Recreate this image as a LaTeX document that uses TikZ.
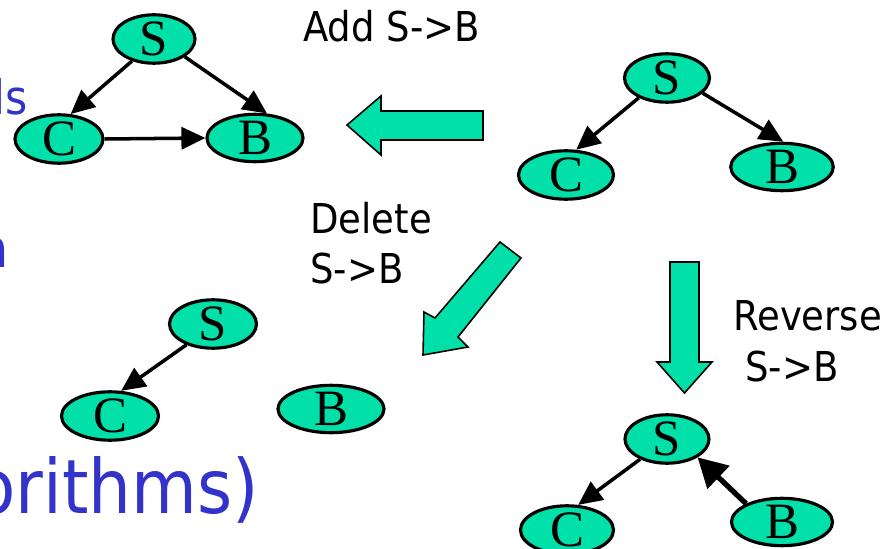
\documentclass[tikz,border=0pt]{standalone}
\usepackage{fontspec}
\setmainfont{DejaVu Sans Condensed}
\newfontfamily\varfont{Liberation Serif}
\usetikzlibrary{arrows.meta,shapes.geometric}
\definecolor{vargreen}{RGB}{0,224,168}
\definecolor{slideblue}{RGB}{51,51,204}

\begin{document}
\begin{tikzpicture}[>={Triangle[length=4.8mm,width=4.4mm]},
  var/.style={ellipse, draw, line width=1.8pt, fill=vargreen, inner sep=0pt,
    minimum height=8.4mm, minimum width=#1, font=\varfont\fontsize{29}{29}\selectfont},
  var/.default=19mm,
  edge/.style={->, line width=2pt},
  move/.style={draw, line width=0.9pt, fill=vargreen, line join=miter},
  lbl/.style={anchor=base west, inner sep=0pt, font=\fontsize{23.4}{28}\selectfont},
  bg/.style={anchor=base east, inner sep=0pt, text=slideblue}]
\useasboundingbox (0,0) rectangle (17.8,10.96);
\clip (0,0) rectangle (17.8,10.96);

% slide text, cut off at the left edge
\node[bg, font=\fontsize{27}{27}\selectfont]   (t1) at (0.56,8.66) {ls};
\node[bg, font=\fontsize{30}{30}\selectfont]   (t2) at (0.18,5.62) {n};
\node[bg, font=\fontsize{42.7}{43}\selectfont] (t3) at (5.18,0.70) {orithms)};

% start network
\node[var=17mm]   (s0) at (13.34,9.40) {S};
\node[var]        (c0) at (11.32,7.46) {C};
\node[var=20.5mm] (b0) at (15.64,7.62) {B};
\draw[edge] (s0.215) -- (c0.68);
\draw[edge] (s0.337) -- (b0.87);

% add S->B
\node[var=16.4mm, minimum height=9mm] (s1) at (3.08,10.18) {S};
\node[var=17.6mm, minimum height=9mm] (c1) at (1.18,8.18)  {C};
\node[var=19.2mm, minimum height=9mm] (b1) at (5.10,8.20)  {B};
\draw[edge] (s1.225) -- (c1.65);
\draw[edge] (s1.330) -- (b1.64);
\draw[edge] (c1.0) -- (b1.180);

% delete S->B
\node[var=17.4mm] (s2) at (4.26,4.48) {S};
\node[var=19.4mm] (c2) at (2.20,2.64) {C};
\node[var=21.2mm] (b2) at (6.62,2.78) {B};
\draw[edge] (s2.218) -- (c2.66);

% reverse S->B
\node[var=16.8mm] (s3) at (13.34,2.18) {S};
\node[var=18.6mm] (c3) at (11.34,0.36) {C};
\node[var=20.2mm] (b3) at (15.64,0.52) {B};
\draw[edge] (s3.217) -- (c3.66);
\draw[edge, line width=3pt, -{Triangle[length=5.8mm,width=6.2mm]}] (b3.153) -- (s3.329);

% moves
\draw[move] (9.66,8.74) -- (7.62,8.74) -- (7.62,9.04) -- (6.94,8.46)
  -- (7.62,7.86) -- (7.62,8.16) -- (9.66,8.16) -- cycle;
\draw[move] (10.00,6.12) -- (10.42,5.80) -- (9.16,4.22) -- (9.36,4.02)
  -- (8.46,3.86) -- (8.48,4.72) -- (8.70,4.60) -- cycle;
\draw[move] (13.40,5.72) -- (13.98,5.72) -- (13.98,3.72) -- (14.24,3.72)
  -- (13.69,3.10) -- (13.14,3.72) -- (13.40,3.72) -- cycle;

\node[lbl] (add)  at (6.06,10.12) {Add S->B};
\node[lbl] (del1) at (6.20,6.28)  {Delete};
\node[lbl] (del2) at (6.20,5.30)  {S->B};
\node[lbl] (rev1) at (14.66,4.36) {Reverse};
\node[lbl] (rev2) at (14.90,3.32) {S->B};
\end{tikzpicture}
\end{document}
